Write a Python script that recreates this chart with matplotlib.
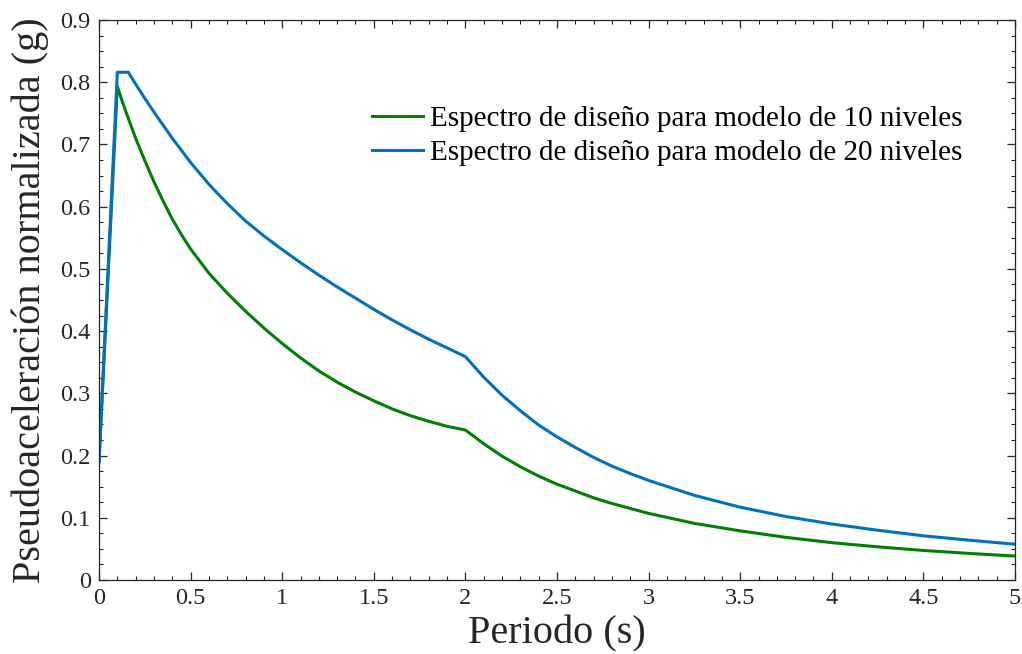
import matplotlib
matplotlib.use("Agg")
import matplotlib.pyplot as plt
from matplotlib.ticker import MultipleLocator

# ─────────────────────────────────────────────
# データ
# ─────────────────────────────────────────────
periodo_10 = [0.0, 0.1, 0.125, 0.15, 0.175, 0.2, 0.25, 0.3, 0.35, 0.4, 0.45, 0.5,
              0.6, 0.7, 0.8, 0.9, 1.0, 1.1, 1.2, 1.3, 1.4, 1.5, 1.6, 1.7, 1.8,
              1.9, 2.0, 2.1, 2.2, 2.3, 2.4, 2.5, 2.6, 2.7, 2.8, 2.9, 3.0, 3.25,
              3.5, 3.75, 4.0, 4.25, 4.5, 4.75, 5.0]
sa_10 = [0.19, 0.793, 0.771, 0.750, 0.730, 0.710, 0.674, 0.640, 0.609, 0.580,
         0.555, 0.532, 0.493, 0.461, 0.432, 0.405, 0.380, 0.357, 0.336, 0.318,
         0.302, 0.288, 0.275, 0.264, 0.255, 0.247, 0.241, 0.219, 0.199, 0.182,
         0.167, 0.154, 0.143, 0.132, 0.123, 0.115, 0.107, 0.091, 0.079, 0.0685,
         0.0600, 0.0533, 0.0475, 0.0427, 0.0385]

periodo_20 = [0.0, 0.1, 0.16, 0.2, 0.25, 0.3, 0.4, 0.5, 0.6, 0.7, 0.8, 0.9, 1.0,
              1.1, 1.2, 1.3, 1.4, 1.5, 1.6, 1.7, 1.8, 1.9, 2.0, 2.1, 2.2, 2.3,
              2.4, 2.5, 2.6, 2.7, 2.8, 2.9, 3.0, 3.25, 3.5, 3.75, 4.0, 4.25,
              4.5, 4.75, 5.0]
sa_20 = [0.19, 0.816, 0.816, 0.797, 0.774, 0.752, 0.710, 0.671, 0.636, 0.605,
         0.577, 0.553, 0.531, 0.510, 0.490, 0.471, 0.453, 0.435, 0.418, 0.402,
         0.387, 0.373, 0.359, 0.326, 0.297, 0.272, 0.249, 0.230, 0.213, 0.197,
         0.183, 0.171, 0.160, 0.136, 0.117, 0.102, 0.090, 0.080, 0.071, 0.064,
         0.0575]

etiquetas = ["Espectro de diseño para modelo de 10 niveles",
             "Espectro de diseño para modelo de 20 niveles"]

# ─────────────────────────────────────────────
# 描画
# ─────────────────────────────────────────────
plt.rcParams["font.family"] = ["Liberation Serif", "DejaVu Serif"]

fig = plt.figure(figsize=(10.22, 6.54), dpi=100)
ax = fig.add_axes([99/1022, 1 - 580/654, 916/1022, 560/654])

ax.plot(periodo_10, sa_10, color="#008000", lw=2.2, label=etiquetas[0])
ax.plot(periodo_20, sa_20, color="#0072BD", lw=2.2, label=etiquetas[1])

ax.set_xlim(0, 5)
ax.set_ylim(0, 0.9)
ax.xaxis.set_major_locator(MultipleLocator(0.5))
ax.xaxis.set_minor_locator(MultipleLocator(0.1))
ax.yaxis.set_major_locator(MultipleLocator(0.1))
ax.yaxis.set_minor_locator(MultipleLocator(0.025))
ax.set_xticklabels([f"{v:g}" for v in ax.get_xticks()])
ax.set_yticklabels([f"{v:g}" for v in ax.get_yticks()])

ax.tick_params(which="both", direction="in", top=True, right=True,
               color="#262626", labelsize=17.5, labelcolor="#262626")
ax.tick_params(which="major", length=6, width=0.9, pad=6)
ax.tick_params(which="minor", length=3, width=0.8)
for s in ax.spines.values():
    s.set_color("#262626")
    s.set_linewidth(0.9)

ax.set_xlabel("Periodo (s)", fontsize=29, color="#262626", labelpad=4)
ax.set_ylabel("Pseudoaceleración normalizada (g)", fontsize=29, color="#262626",
              labelpad=8)

ax.legend(loc="upper left", bbox_to_anchor=(0.298, 0.847), frameon=False,
          fontsize=21, handlelength=1.75, handletextpad=0.24,
          labelspacing=0.27, borderpad=0, borderaxespad=0)

fig.savefig("out.png", dpi=100)
